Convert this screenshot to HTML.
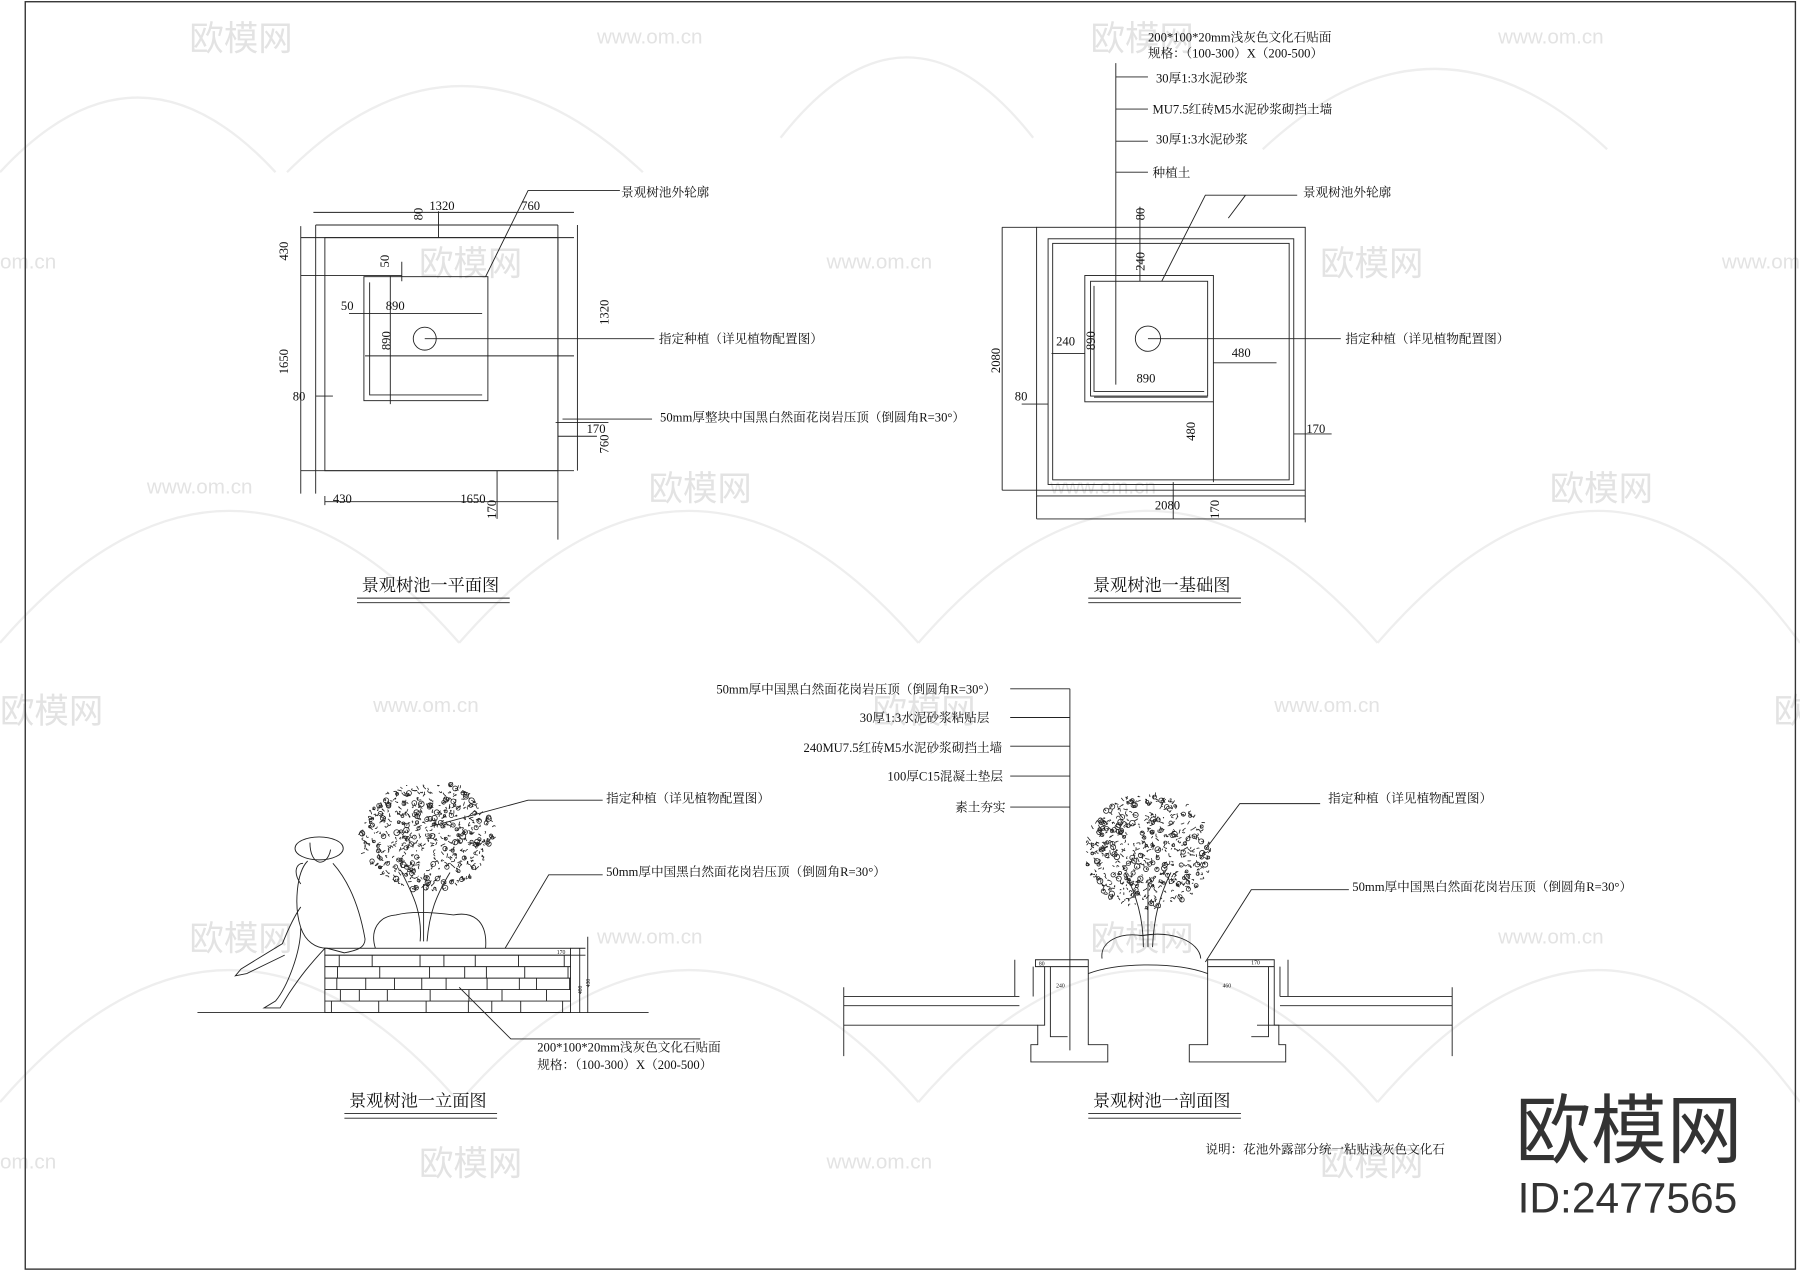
<!DOCTYPE html>
<html><head><meta charset="utf-8"><style>
html,body{margin:0;padding:0;background:#fff;}
svg{display:block}
text{font-family:"Liberation Serif","Noto Serif CJK SC","Noto Sans CJK SC",serif;fill:#111}
.wm{font-family:"Liberation Sans","Noto Sans CJK SC",sans-serif;fill:#e3e3e3}
</style></head><body>
<svg id="s" width="1800" height="1272" viewBox="0 0 1568 1108" preserveAspectRatio="none" xmlns="http://www.w3.org/2000/svg">
<rect width="1568" height="1108" fill="#fff"/>
<g fill="none" stroke="#eeeeee" stroke-width="2">
<path d="M0 150 Q120 20 240 150"/><path d="M250 150 Q400 0 560 150"/><path d="M680 120 Q790 -20 900 120"/>
<path d="M1100 130 Q1250 -10 1400 130"/><path d="M0 560 Q200 330 400 560"/><path d="M400 560 Q600 330 800 560"/>
<path d="M800 560 Q1000 330 1200 560"/><path d="M1200 560 Q1400 330 1568 560"/><path d="M0 960 Q200 730 400 960"/>
<path d="M400 960 Q600 730 800 960"/><path d="M800 960 Q1000 730 1200 960"/><path d="M1200 960 Q1400 730 1568 960"/>
</g>
<g>
<text class="wm" x="165" y="44" font-size="30">欧模网</text>
<text class="wm" x="950" y="44" font-size="30">欧模网</text>
<text class="wm" x="365" y="240" font-size="30">欧模网</text>
<text class="wm" x="1150" y="240" font-size="30">欧模网</text>
<text class="wm" x="565" y="436" font-size="30">欧模网</text>
<text class="wm" x="1350" y="436" font-size="30">欧模网</text>
<text class="wm" x="0" y="630" font-size="30">欧模网</text>
<text class="wm" x="760" y="630" font-size="30">欧模网</text>
<text class="wm" x="1545" y="630" font-size="30">欧模网</text>
<text class="wm" x="165" y="828" font-size="30">欧模网</text>
<text class="wm" x="950" y="828" font-size="30">欧模网</text>
<text class="wm" x="365" y="1024" font-size="30">欧模网</text>
<text class="wm" x="1150" y="1024" font-size="30">欧模网</text>
<text class="wm" x="520" y="38" font-size="18">www.om.cn</text>
<text class="wm" x="1305" y="38" font-size="18">www.om.cn</text>
<text class="wm" x="0" y="234" font-size="18">om.cn</text>
<text class="wm" x="720" y="234" font-size="18">www.om.cn</text>
<text class="wm" x="1500" y="234" font-size="18">www.om.cn</text>
<text class="wm" x="128" y="430" font-size="18">www.om.cn</text>
<text class="wm" x="915" y="430" font-size="18">www.om.cn</text>
<text class="wm" x="325" y="620" font-size="18">www.om.cn</text>
<text class="wm" x="1110" y="620" font-size="18">www.om.cn</text>
<text class="wm" x="520" y="822" font-size="18">www.om.cn</text>
<text class="wm" x="1305" y="822" font-size="18">www.om.cn</text>
<text class="wm" x="0" y="1018" font-size="18">om.cn</text>
<text class="wm" x="720" y="1018" font-size="18">www.om.cn</text>
</g>
<rect x="22" y="1.5" width="1542" height="1104" fill="none" stroke="#333" stroke-width="1.2"/>

<g fill="none" stroke="#222" stroke-width="0.8">
<rect x="283" y="207" width="203" height="203"/>
<rect x="317" y="241" width="108" height="108"/>
<path d="M322 246 V344 H420"/>
<circle cx="370" cy="295" r="10"/>
<path d="M273 185 H500 M275 196 H486 M275 196 V430 M262 207 H500 M262 240 H350 M262 410 H500 M262 197 V430 M486 196 V470 M503 196 V410 M283 437 H486 M283 432 V440 M433 410 V452 M275 345 H290 M304 273 H420 M340 240 V352 M318 310 H500 M484 368 H530 M486 380 H520"/>
<path d="M382 184 V207 M350 228 V245 M370 295 H570 M490 365 H568 M423 241 L460 166 H540"/>
</g>
<g font-size="11">
<text x="541" y="171">景观树池外轮廓</text>
<text x="374" y="183">1320</text><text x="454" y="183">760</text>
<text x="336" y="270">890</text><text x="297" y="270">50</text>
<text x="255" y="349">80</text><text x="290" y="438">430</text><text x="401" y="438">1650</text>
<text x="511" y="377">170</text>
<text x="574" y="299">指定种植（详见植物配置图）</text>
<text x="575" y="367">50mm厚整块中国黑白然面花岗岩压顶（倒圆角R=30°）</text>
<text transform="translate(251,227) rotate(-90)">430</text>
<text transform="translate(251,326) rotate(-90)">1650</text>
<text transform="translate(368,192) rotate(-90)">80</text>
<text transform="translate(339,233) rotate(-90)">50</text>
<text transform="translate(340,305) rotate(-90)">890</text>
<text transform="translate(530,283) rotate(-90)">1320</text>
<text transform="translate(530,395) rotate(-90)">760</text>
<text transform="translate(432,452) rotate(-90)">170</text>
<text x="315" y="515" font-size="15">景观树池一平面图</text>
</g>
<path d="M311 521 H444 M311 525 H444" stroke="#222" stroke-width="0.8"/>

<g fill="none" stroke="#222" stroke-width="0.8">
<rect x="903" y="198" width="234" height="234"/>
<rect x="913" y="208" width="214" height="214"/>
<rect x="917" y="212" width="206" height="206"/>
<rect x="945" y="240" width="112" height="110"/>
<rect x="950" y="245" width="102" height="100"/>
<path d="M953 249 V341 H1049"/>
<circle cx="1000" cy="295" r="11"/>
<path d="M873 198 H903 M873 198 V427 M873 427 H1137 M903 432 V452 M903 452 H1137 M1137 432 V455 M1057 350 V420 M1057 316 H1112 M916 308 H945 M890 352 H913 M1127 378 H1160 M953 346 H1052 M1022 420 V452 M972 55 V335 M972 67 H1000 M972 95 H1000 M972 123 H1000 M972 150 H1000 M993 180 V245 M1000 295 H1168 M1012 245 L1050 170 H1130 M1070 190 L1085 170"/>
</g>
<g font-size="11">
<text x="1000" y="36">200*100*20mm浅灰色文化石贴面</text>
<text x="1000" y="50">规格：（100-300）X（200-500）</text>
<text x="1007" y="72">30厚1:3水泥砂浆</text>
<text x="1004" y="99">MU7.5红砖M5水泥砂浆砌挡土墙</text>
<text x="1007" y="125">30厚1:3水泥砂浆</text>
<text x="1004" y="154">种植土</text>
<text x="1135" y="171">景观树池外轮廓</text>
<text x="1172" y="299">指定种植（详见植物配置图）</text>
<text x="920" y="301">240</text><text x="990" y="333">890</text><text x="1073" y="311">480</text>
<text x="884" y="349">80</text><text x="1138" y="377">170</text><text x="1006" y="444">2080</text>
<text transform="translate(871,325) rotate(-90)">2080</text>
<text transform="translate(997,192) rotate(-90)">80</text>
<text transform="translate(997,236) rotate(-90)">240</text>
<text transform="translate(954,305) rotate(-90)">890</text>
<text transform="translate(1041,384) rotate(-90)">480</text>
<text transform="translate(1062,452) rotate(-90)">170</text>
<text x="952" y="515" font-size="15">景观树池一基础图</text>
</g>
<path d="M948 521 H1081 M948 525 H1081" stroke="#222" stroke-width="0.8"/>

<g fill="none" stroke="#222" stroke-width="0.8">
<path d="M172 882 H565"/>
<rect x="283" y="826" width="214" height="56"/>
<path d="M283 832 H497 M497 826 H510 M497 832 H510 M512 816 V882 M505 826 V882"/>
<g id="stones"></g>
<path d="M327 826 C322 810 330 798 345 797 C360 793 380 795 395 797 C410 794 425 800 423 826"/>
<ellipse cx="278" cy="739" rx="21" ry="10"/>
<path d="M270 734 C270 755 285 756 288 740 M268 750 C258 760 256 790 262 808 C266 820 275 826 285 826 L300 830 C310 828 318 826 318 818 C314 795 306 770 290 752 M262 790 C255 800 250 812 246 822 L210 844 L205 850 L215 848 L248 832 M262 808 C262 830 250 860 240 872 L230 878 L244 878 L252 865 C262 850 270 840 283 826 M262 770 C255 760 258 752 264 752"/>
<path d="M366 820 C368 795 360 780 350 760 M372 820 C374 795 380 780 392 760 M369 820 V770"/>
<path d="M440 826 L478 762 H525 M375 720 L460 697 H525 M400 860 L445 905 H610"/>
</g>
<g id="tree1" fill="none" stroke="#222" stroke-width="0.7"></g>
<g font-size="11">
<text x="528" y="699">指定种植（详见植物配置图）</text>
<text x="528" y="763">50mm厚中国黑白然面花岗岩压顶（倒圆角R=30°）</text>
<text x="468" y="916">200*100*20mm浅灰色文化石贴面</text>
<text x="468" y="931">规格：（100-300）X（200-500）</text>
<text x="304" y="964" font-size="15">景观树池一立面图</text>
</g>
<path d="M300 970 H433 M300 974 H433" stroke="#222" stroke-width="0.8"/>
<g font-size="5"><text x="485" y="831">170</text><text transform="translate(507,866) rotate(-90)">400</text><text transform="translate(514,860) rotate(-90)">430</text></g>

<g fill="none" stroke="#222" stroke-width="0.8">
<path d="M735 868 H888 M735 876 H888 M735 893 H904 M735 860 V920 M1265 868 H1115 M1265 876 H1115 M1265 893 H1095 M1265 860 V920"/>
<path d="M902 836 H948 V842 H902 Z M910 842 V893 H904 V910 H898 V925 H965 V910 H948 V842 M915 842 V903 H930 M948 880 V893"/>
<path d="M1052 836 H1110 V842 H1052 Z M1110 842 V893 H1114 V910 H1120 V925 H1036 V910 H1052 V842 M1105 842 V903 H1090"/>
<path d="M948 848 C975 838 1025 838 1052 848"/>
<path d="M932 600 V915 M880 600 H932 M880 625 H932 M880 650 H932 M880 676 H932 M880 703 H932"/>
<path d="M996 825 C996 800 990 780 980 760 M1004 825 C1005 800 1010 780 1020 760 M1000 825 V770"/>
<path d="M960 835 C958 820 975 812 995 815 C1020 810 1045 820 1046 835"/>
<path d="M1050 740 L1080 700 H1150 M1050 838 L1090 775 H1175"/>
<path d="M900 842 V868 M884 836 V868 M1115 842 V868 M1122 836 V868"/>
</g>
<g id="tree2" fill="none" stroke="#222" stroke-width="0.7"></g>
<g font-size="11">
<text x="624" y="604">50mm厚中国黑白然面花岗岩压顶（倒圆角R=30°）</text>
<text x="749" y="629">30厚1:3水泥砂浆粘贴层</text>
<text x="700" y="655">240MU7.5红砖M5水泥砂浆砌挡土墙</text>
<text x="773" y="680">100厚C15混凝土垫层</text>
<text x="832" y="707">素土夯实</text>
<text x="1157" y="699">指定种植（详见植物配置图）</text>
<text x="1178" y="776">50mm厚中国黑白然面花岗岩压顶（倒圆角R=30°）</text>
<text x="952" y="964" font-size="15">景观树池一剖面图</text>
<text x="1050" y="1005">说明：花池外露部分统一粘贴浅灰色文化石</text>
</g>
<path d="M948 970 H1081 M948 974 H1081" stroke="#222" stroke-width="0.8"/>
<g font-size="5"><text x="905" y="841">80</text><text x="920" y="860">240</text><text x="1065" y="860">460</text><text x="1090" y="840">170</text></g>

<text x="1320" y="1008" font-size="66" style="font-family:'Noto Sans CJK SC','WenQuanYi Zen Hei',sans-serif;fill:#333">欧模网</text>
<text x="1322" y="1056" font-size="37" style="font-family:'Liberation Sans',sans-serif;fill:#333">ID:2477565</text>
</svg>
<script>
(function(){
var seed=7;function r(){seed=(seed*16807)%2147483647;return seed/2147483647;}
function tree(id,cx,cy,rx,ry){var g=document.getElementById(id),s="";
for(var i=0;i<520;i++){var a=r()*6.283,d=Math.sqrt(r());var x=cx+Math.cos(a)*rx*d,y=cy+Math.sin(a)*ry*d;
s+='<path d="M'+x.toFixed(1)+' '+y.toFixed(1)+' q'+(r()*6-3).toFixed(1)+' '+(r()*6-3).toFixed(1)+' '+(r()*6-3).toFixed(1)+' '+(r()*6-3).toFixed(1)+'"/>';
if(i%4==0)s+='<circle cx="'+x.toFixed(1)+'" cy="'+y.toFixed(1)+'" r="'+(1+r()*1.5).toFixed(1)+'"/>';}
g.innerHTML=s;}
tree("tree1",372,728,58,48);tree("tree2",1000,742,55,50);
var st=document.getElementById("stones"),s="";
var rows=[832,842,852,862,872,882];
for(var j=0;j<rows.length-1;j++){var y=rows[j];s+='<path d="M283 '+y+' H497"/>';var x=283+r()*20;
while(x<497){s+='<path d="M'+x.toFixed(1)+' '+y+' V'+rows[j+1]+'"/>';x+=15+r()*30;}}
st.innerHTML=s;
})();
</script>
</body></html>
